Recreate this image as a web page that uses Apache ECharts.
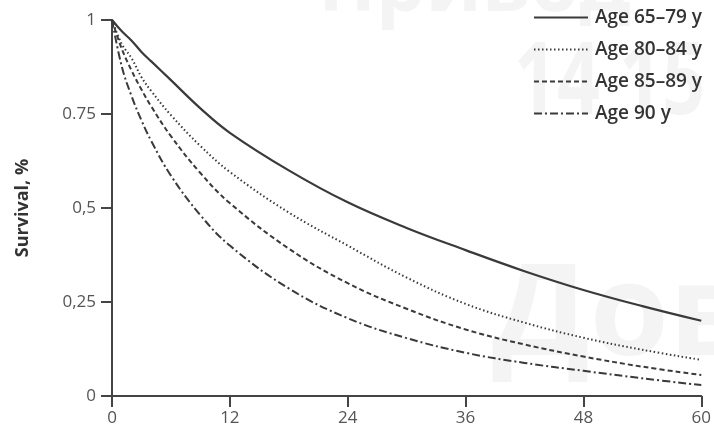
<!DOCTYPE html>
<html>
<head>
<meta charset="utf-8">
<script src="https://cdn.jsdelivr.net/npm/echarts@6/dist/echarts.min.js"></script>
<style>
html,body{margin:0;padding:0;background:#fff;}
#chart{width:714px;height:428px;}
</style>
</head>
<body>
<div id="chart"></div>
<script>
const months = [0, 1, 2, 3, 4, 6, 9, 12, 18, 24, 30, 36, 42, 48, 54, 60];
const age6579 = [1, 0.97, 0.945, 0.915, 0.89, 0.84, 0.765, 0.70, 0.60, 0.515, 0.447, 0.388, 0.332, 0.282, 0.239, 0.20];
const age8084 = [1, 0.936, 0.898, 0.848, 0.811, 0.747, 0.665, 0.596, 0.488, 0.40, 0.315, 0.245, 0.195, 0.155, 0.123, 0.096];
const age8589 = [1, 0.923, 0.865, 0.815, 0.770, 0.691, 0.593, 0.513, 0.392, 0.30, 0.232, 0.177, 0.137, 0.105, 0.078, 0.056];
const age90   = [1, 0.876, 0.797, 0.733, 0.678, 0.586, 0.481, 0.40, 0.286, 0.207, 0.154, 0.115, 0.088, 0.067, 0.047, 0.029];
const seriesNames = ['Age 65–79 y', 'Age 80–84 y', 'Age 85–89 y', 'Age 90 y'];
const yTickValues = [0, 0.25, 0.5, 0.75, 1];
const yTickLabels = ['0', '0,25', '0,5', '0.75', '1'];
const xTicks = [0, 12, 24, 36, 48, 60];
const yAxisName = 'Survival, %';
const watermarks = ['Привод', '14 15', 'Дов'];

const ink = '#3a3a3a';
const dashes = ['solid', [1.5, 2.5], [5, 3], [8, 3, 2, 3]];
const values = [age6579, age8084, age8589, age90];

const chart = echarts.init(document.getElementById('chart'), null, {renderer: 'canvas'});
const font = '"Open Sans", "DejaVu Sans", sans-serif';
const wmColor = '#f4f4f4';

chart.setOption({
  animation: false,
  backgroundColor: '#fff',
  graphic: [
    {type: 'text', left: 318, top: -50, z: -10, silent: true,
     style: {text: watermarks[0], fontSize: 78, fontWeight: 'bold', fontFamily: font, fill: wmColor}},
    {type: 'text', left: 514, top: 36, z: -10, silent: true, scaleX: 0.75,
     style: {text: watermarks[1], fontSize: 100, fontWeight: 'bold', fontFamily: font, fill: wmColor}},
    {type: 'text', left: 492, top: 255, z: -10, silent: true,
     style: {text: watermarks[2], fontSize: 128, fontWeight: 'bold', fontFamily: font, fill: wmColor}}
  ],
  grid: {left: 112, right: 12, top: 20, bottom: 32, containLabel: false},
  legend: {
    orient: 'vertical',
    left: 528,
    top: 3,
    itemWidth: 54,
    itemHeight: 16,
    itemGap: 13,
    data: seriesNames,
    itemStyle: {opacity: 0},
    textStyle: {fontFamily: font, fontSize: 19, fontWeight: 600, color: '#333', padding: [0, 0, 0, 2]}
  },
  xAxis: {
    type: 'value',
    min: 0, max: 60, interval: 12,
    axisLine: {show: true, onZero: false, lineStyle: {color: '#444', width: 2}},
    axisTick: {show: true, inside: false, length: 11, lineStyle: {color: '#444', width: 2}},
    axisLabel: {
      margin: 14, fontFamily: font, fontSize: 17, color: '#555',
      formatter: v => xTicks.includes(v) ? String(v) : ''
    },
    splitLine: {show: false}
  },
  yAxis: {
    type: 'value',
    min: 0, max: 1, interval: 0.25,
    name: yAxisName,
    nameLocation: 'middle',
    nameGap: 80,
    nameTextStyle: {fontFamily: font, fontSize: 18, fontWeight: 'bold', color: '#333'},
    axisLine: {show: true, onZero: false, lineStyle: {color: '#444', width: 2}},
    axisTick: {show: true, inside: false, length: 11, lineStyle: {color: '#444', width: 2}},
    axisLabel: {
      margin: 16, fontFamily: font, fontSize: 17, color: '#555',
      formatter: v => {
        const i = yTickValues.findIndex(t => Math.abs(t - v) < 1e-6);
        return i >= 0 ? yTickLabels[i] : '';
      }
    },
    splitLine: {show: false}
  },
  series: seriesNames.map((name, i) => ({
    name: name,
    type: 'line',
    data: months.map((m, j) => [m, values[i][j]]),
    smooth: 0.4,
    symbol: 'none',
    z: 3,
    lineStyle: {color: ink, width: i === 0 ? 2.2 : 2, type: dashes[i]},
    itemStyle: {color: ink}
  }))
});
</script>
</body>
</html>
